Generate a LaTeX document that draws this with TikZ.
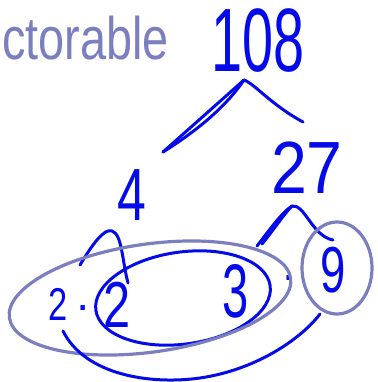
\documentclass[tikz,border=0pt]{standalone}
\usepackage{fontspec}
\usepackage{graphicx}
\setmainfont{Liberation Sans}
\definecolor{ink}{RGB}{5,10,232}
\definecolor{slate}{RGB}{123,127,192}
\begin{document}
\begin{tikzpicture}[x=1pt,y=-1pt,
  inkline/.style={draw=ink,line width=3pt,line cap=round,line join=round},
  slateline/.style={draw=slate,line width=3.2pt,line cap=round,line join=round},
  hand/.style={inner sep=0pt,outer sep=0pt,anchor=base,text=ink},
]
\useasboundingbox (0,0) rectangle (377,382);
% heading fragment
\node[inner sep=0pt,anchor=base west,text=slate] (word) at (2,60)
  {\fontsize{60}{60}\selectfont\scalebox{0.78}[1]{ctorable}};
% numbers
\node[hand] (n108) at (258,72) {\fontsize{90}{90}\selectfont\scalebox{0.62}[1]{108}};
\node[hand] (n4) at (132,220) {\fontsize{74}{74}\selectfont\scalebox{0.7}[1]{4}};
\node[hand] (n27) at (307,193) {\fontsize{74}{74}\selectfont\scalebox{0.87}[1]{27}};
\node[hand] (a2) at (58,320) {\fontsize{46}{46}\selectfont\scalebox{0.75}[1]{2}};
\node[hand] (d1) at (83,320) {\fontsize{46}{46}\selectfont ·};
\node[hand] (b2) at (117,327) {\fontsize{65}{65}\selectfont\scalebox{0.75}[1]{2}};
\node[hand] (c3) at (236,317) {\fontsize{76}{76}\selectfont\scalebox{0.62}[1]{3}};
\node[hand] (d2) at (289,290) {\fontsize{46}{46}\selectfont ·};
\node[hand] (e9) at (333,292) {\fontsize{65}{65}\selectfont\scalebox{0.7}[1]{9}};
% branch points
\coordinate (p1) at (244,80);
\coordinate (l1) at (163,152);
\coordinate (r1) at (303,122);
\coordinate (p4) at (112,231);
\coordinate (l4) at (80,265);
\coordinate (r4) at (128,283);
\coordinate (p27) at (292,206);
\coordinate (l27) at (257,246);
\coordinate (r27) at (333,240);
% branches
\draw[inkline] (l1) -- (p1);
\draw[inkline] (l1) .. controls (195,132) and (225,108) .. (p1);
\draw[inkline] (p1) .. controls (255,84) and (270,104) .. (r1);
\draw[inkline] (l4) .. controls (92,245) and (104,228) .. (p4) .. controls (122,234) and (122,260) .. (r4);
\draw[inkline] (l27) .. controls (268,232) and (282,212) .. (p27);
\draw[inkline] (262,244) .. controls (272,232) and (284,214) .. (p27);
\draw[inkline] (p27) .. controls (305,204) and (312,236) .. (r27);
% inner blue loop
\draw[inkline,rotate around={8:(183,298)}] (183,298) ellipse [x radius=88, y radius=46];
% big slate loop
\draw[slateline,rotate around={8:(150,298)}] (150,298) ellipse [x radius=142, y radius=54];
% circle round 9
\draw[slateline] (337,268) ellipse [x radius=35, y radius=46];
% outer blue sweep
\draw[inkline] (63,331) .. controls (85,375) and (150,385) .. (200,378) .. controls (255,370) and (300,340) .. (320,314);
\end{tikzpicture}
\end{document}
